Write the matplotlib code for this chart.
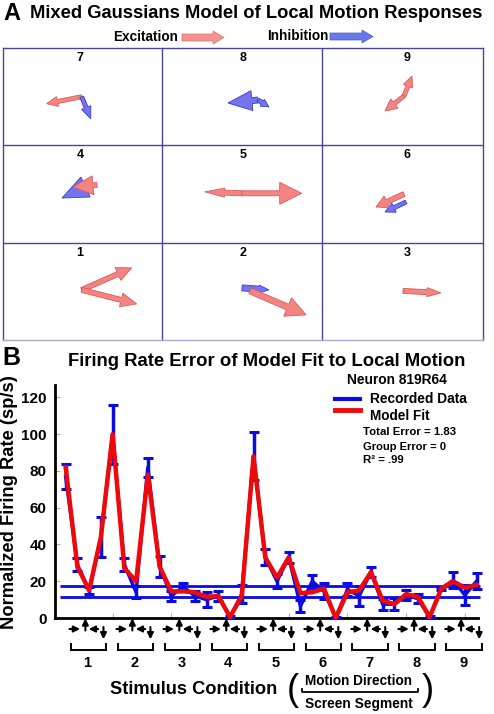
import numpy as np
import matplotlib
matplotlib.use("Agg")
import matplotlib.pyplot as plt

# ---------------- data ----------------
# Panel B: 36 stimulus conditions (9 screen segments x 4 motion directions)
recorded = [77, 29, 15, 44, 100, 29, 14, 82, 28, 12, 17, 12, 10, 12, 0.5, 13,
            88, 33, 20, 33, 6.5, 20, 14.5, 0.3, 15.5, 12, 25, 7.5, 7.5, 12.5, 10.5, 0.5,
            16, 20.5, 12.5, 20]
recorded_err = [7, 3.5, 2, 11, 16, 3.5, 3.2, 5, 5.5, 2.5, 2.3, 2.5, 4, 2.7, 0.5, 5,
                13, 4.3, 3.7, 3, 3.2, 3.6, 4.3, 0.3, 3.5, 5.5, 2.8, 3, 3.3, 2.7, 2.3, 0.5,
                1, 4.3, 5.4, 4.3]
model_fit = [82, 28, 15, 44, 100, 27, 20, 78, 28, 14.5, 14.5, 14, 11.5, 12, 0.5, 12,
             88, 33, 22, 33, 13.5, 14, 16, 0, 14, 15, 25, 9.5, 7.5, 13, 11.5, 0.5,
             16, 20, 16.5, 18]
baseline_levels = [17.2, 11.4]
segments = ['1', '2', '3', '4', '5', '6', '7', '8', '9']
y_ticks = [0, 20, 40, 60, 80, 100, 120]

# Panel A: arrow vectors per screen segment (pixel-like units, y down)
cell_ids = [7, 8, 9, 4, 5, 6, 1, 2, 3]
arrow_cell = [7, 7, 8, 8, 9, 9, 4, 4, 5, 5, 6, 6, 1, 1, 2, 2, 3]
arrow_kind = ['exc', 'inh', 'inh', 'inh', 'exc', 'exc', 'inh', 'exc', 'exc', 'exc',
              'inh', 'exc', 'exc', 'exc', 'inh', 'exc', 'exc']
arrow_dx = [-35, 9, -30, 11, 8, -19, -30, -24, 60, -37, -21, -28, 50, 55, 27, 56, 38]
arrow_dy = [7, 22, 3, 7, -20, 15, 14, 2, 0, -1.5, 10, 13, -22, 14, 2, 24, 2]

# ---------------- layout / style ----------------
arrow_origin = [(78.7, 48.7), (78.7, 48.7), (95, 52), (95, 52), (81, 48), (81, 48),
                (89, 38.7), (94, 39.7), (78.7, 48), (78.7, 48), (83, 56.7), (81, 48.7),
                (78.7, 47.3), (78.7, 47.3), (79, 45.3), (87, 48.3), (80, 48.3)]
arrow_width = [4, 4, 6, 4, 4, 4, 6, 5, 5, 5, 4, 5, 5, 5, 6, 6, 5]
arrow_hw = [10, 10, 20, 8, 10, 12, 22, 19, 22, 9, 10, 13, 14, 14, 8, 20, 9]
arrow_hl = [11, 12, 24, 8, 11, 12, 26, 20, 22, 20, 10, 12, 15, 16, 10, 20, 14]

PINK, PINK_E = '#f48482', '#d85c5c'
LBLUE, LBLUE_E = '#7474ee', '#3c3cc8'
BLUE = '#0a0ae6'
RED = '#ee0a0a'
GRID = '#4646a0'

plt.rcParams['font.family'] = ['Liberation Sans', 'DejaVu Sans']
plt.rcParams['font.weight'] = 'bold'

W, H = 494, 714
fig = plt.figure(figsize=(W / 100, H / 100), dpi=100)
renderer = fig.canvas.get_renderer()


def fit(ax, x, y, s, width_px, rotation=0, **kw):
    t = ax.text(x, y, s, fontsize=10, fontweight='bold', **kw)
    w = t.get_window_extent(renderer=renderer).width
    t.set_fontsize(10 * width_px / w)
    t.set_rotation(rotation)
    return t


# ---------------- Panel A ----------------
axA = fig.add_axes([3 / W, 1 - 340 / H, 480 / W, 292 / H])
axA.set_xlim(0, 480)
axA.set_ylim(292, 0)
axA.set_xticks([])
axA.set_yticks([])
for s in axA.spines.values():
    s.set_color(GRID)
    s.set_linewidth(1.0)
axA.spines['bottom'].set_color('#a8a8d4')
cw, ch = 160, 97.3
for k in (1, 2):
    axA.axvline(k * cw - 0.7, color=GRID, lw=1.0)
    axA.axhline(k * ch, color=GRID, lw=1.0)

def cell_origin(cid):
    col = (cid - 1) % 3
    row = 2 - (cid - 1) // 3
    return col * cw, row * ch, col

for cid in cell_ids:
    cx, cy, col = cell_origin(cid)
    axA.text(cx + 77 + 3.5 * col, cy + 10, str(cid), ha='center', va='center',
             fontsize=9, fontweight='bold')

for i in range(len(arrow_cell)):
    cx, cy, _ = cell_origin(arrow_cell[i])
    ox, oy = arrow_origin[i]
    fc, ec = (PINK, PINK_E) if arrow_kind[i] == 'exc' else (LBLUE, LBLUE_E)
    axA.arrow(cx + ox, cy + oy, arrow_dx[i], arrow_dy[i], width=arrow_width[i],
              head_width=arrow_hw[i], head_length=arrow_hl[i],
              length_includes_head=True, fc=fc, ec=ec, lw=0.6, zorder=3 + i * 0.01)

# ---------------- Panel B ----------------
axB = fig.add_axes([54.5 / W, 1 - 618 / H, (478 - 54.5) / W, (618 - 385) / H])
n = len(recorded)
x = np.arange(1, n + 1)
axB.set_xlim(0.05, 36.12)
axB.set_ylim(0, 126.8)
axB.hlines(baseline_levels, 0.5, 36.25, color=BLUE, lw=2, zorder=2, clip_on=False)
axB.errorbar(x, recorded, yerr=recorded_err, color=BLUE, lw=2.5, elinewidth=2.5,
             capsize=3.4, capthick=2.2, zorder=3, clip_on=False)
axB.plot(x, model_fit, color=RED, lw=3.2, zorder=4, clip_on=False)
for s in ('top', 'right'):
    axB.spines[s].set_visible(False)
for s in ('left', 'bottom'):
    axB.spines[s].set_linewidth(2)
axB.set_yticks(y_ticks)
axB.set_yticklabels([str(v) for v in y_ticks])
axB.set_xticks([5, 10, 15, 20, 25, 30, 35])
axB.set_xticklabels([])
axB.tick_params(axis='both', direction='in', length=3.5, width=0.8, color='#b0b0b0')
axB.tick_params(axis='y', labelsize=11, pad=5.5)
for lab in axB.get_yticklabels():
    lab.set_fontweight('bold')

# direction icons, brackets and segment numbers below the axis
ap = dict(arrowstyle='-|>', lw=1.5, color='k', mutation_scale=9, shrinkA=0, shrinkB=0)
for g, seg in enumerate(segments):
    c = 4 * g + 2.5 + 0.45
    axB.annotate('', xy=(c - 0.72, -6.0), xytext=(c - 1.62, -6.0), arrowprops=ap,
                 annotation_clip=False)
    axB.annotate('', xy=(c - 0.27, -0.2), xytext=(c - 0.27, -6.8), arrowprops=ap,
                 annotation_clip=False)
    axB.annotate('', xy=(c + 0.02, -6.0), xytext=(c + 0.82, -6.0), arrowprops=ap,
                 annotation_clip=False)
    axB.annotate('', xy=(c + 1.27, -11.6), xytext=(c + 1.27, -4.9), arrowprops=ap,
                 annotation_clip=False)
    axB.plot([c - 1.52, c - 1.52, c + 1.51, c + 1.51], [-14.2, -17.4, -17.4, -14.2],
             color='k', lw=1.4, clip_on=False, solid_joinstyle='miter')
    axB.text(c - 0.1, -24.5, seg, ha='center', va='center', fontsize=10.5,
             fontweight='bold')

# ---------------- overlay texts ----------------
ov = fig.add_axes([0, 0, 1, 1], zorder=10)
ov.set_xlim(0, W)
ov.set_ylim(H, 0)
ov.axis('off')

fit(ov, 3, 14, 'A', 17, ha='left', va='center')
fit(ov, 30, 14, 'Mixed Gaussians Model of Local Motion Responses', 453, ha='left', va='center')
fit(ov, 113, 37, 'Excitation', 65, ha='left', va='center')
ov.arrow(182, 37.5, 42, 0, width=7, head_width=13, head_length=11,
         length_includes_head=True, fc='#f39390', ec='#e07070', lw=0.5)
fit(ov, 267, 35.5, 'Inhibition', 61, ha='left', va='center')
ov.arrow(330, 36.5, 43, 0, width=7, head_width=13, head_length=11,
         length_includes_head=True, fc='#6878e6', ec='#4a5ad0', lw=0.5)

fit(ov, 2, 358, 'B', 18, ha='left', va='center')
fit(ov, 68, 362, 'Firing Rate Error of Model Fit to Local Motion', 397, ha='left', va='center')
fit(ov, 347, 380, 'Neuron 819R64', 100, ha='left', va='center')
ov.plot([335, 360], [399, 399], color=BLUE, lw=3)
fit(ov, 370, 399, 'Recorded Data', 97, ha='left', va='center')
ov.plot([335, 360], [410, 410], color=RED, lw=3.5)
fit(ov, 370, 416, 'Model Fit', 60, ha='left', va='center')
fit(ov, 363, 432, 'Total Error = 1.83', 93, ha='left', va='center')
fit(ov, 363, 447, 'Group Error = 0', 83, ha='left', va='center')
fit(ov, 363, 460, 'R\u00b2 = .99', 41, ha='left', va='center')

fit(ov, 9.5, 502.5, 'Normalized Firing Rate (sp/s)', 255, rotation=90,
    ha='center', va='center')

fit(ov, 110, 690, 'Stimulus Condition', 167, ha='left', va='center')
ov.text(293, 691, '(', fontsize=26, ha='center', va='center', fontweight='normal')
ov.text(428, 691, ')', fontsize=26, ha='center', va='center', fontweight='normal')
fit(ov, 305, 681, 'Motion Direction', 107, ha='left', va='center')
ov.plot([302, 302, 418, 418], [689, 692, 692, 689], color='k', lw=1.3)
fit(ov, 305, 704, 'Screen Segment', 108, ha='left', va='center')

fig.savefig('out.png', dpi=100)
